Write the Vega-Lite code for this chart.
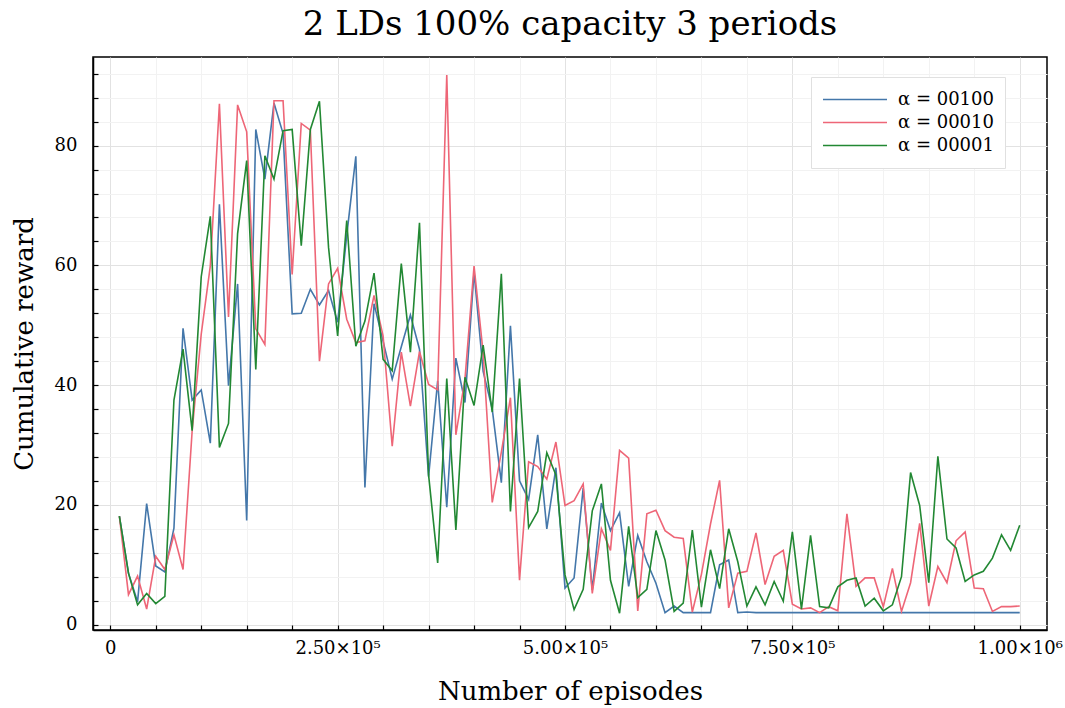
{
  "$schema": "https://vega.github.io/schema/vega-lite/v6.json",
  "width": 954,
  "height": 573,
  "autosize": {"type": "none"},
  "padding": {"left": 93, "top": 57, "right": 18, "bottom": 78},
  "background": "#ffffff",
  "data": {"values": [
    {"episodes":10000,"reward":18.1,"series":"α = 00100"},{"episodes":20000,"reward":8.6,"series":"α = 00100"},{"episodes":30000,"reward":3.8,"series":"α = 00100"},{"episodes":40000,"reward":20.2,"series":"α = 00100"},{"episodes":50000,"reward":9.8,"series":"α = 00100"},{"episodes":60000,"reward":8.8,"series":"α = 00100"},{"episodes":70000,"reward":16.1,"series":"α = 00100"},{"episodes":80000,"reward":49.5,"series":"α = 00100"},{"episodes":90000,"reward":37.5,"series":"α = 00100"},{"episodes":100000,"reward":39.2,"series":"α = 00100"},
    {"episodes":110000,"reward":30.3,"series":"α = 00100"},{"episodes":120000,"reward":70.2,"series":"α = 00100"},{"episodes":130000,"reward":39.9,"series":"α = 00100"},{"episodes":140000,"reward":56.9,"series":"α = 00100"},{"episodes":150000,"reward":17.4,"series":"α = 00100"},{"episodes":160000,"reward":82.7,"series":"α = 00100"},{"episodes":170000,"reward":74.4,"series":"α = 00100"},{"episodes":180000,"reward":87.1,"series":"α = 00100"},{"episodes":190000,"reward":82.0,"series":"α = 00100"},{"episodes":200000,"reward":51.9,"series":"α = 00100"},
    {"episodes":210000,"reward":52.0,"series":"α = 00100"},{"episodes":220000,"reward":56.0,"series":"α = 00100"},{"episodes":230000,"reward":53.4,"series":"α = 00100"},{"episodes":240000,"reward":55.8,"series":"α = 00100"},{"episodes":250000,"reward":50.5,"series":"α = 00100"},{"episodes":260000,"reward":65.0,"series":"α = 00100"},{"episodes":270000,"reward":78.2,"series":"α = 00100"},{"episodes":280000,"reward":22.9,"series":"α = 00100"},{"episodes":290000,"reward":53.6,"series":"α = 00100"},{"episodes":300000,"reward":47.3,"series":"α = 00100"},
    {"episodes":310000,"reward":41.0,"series":"α = 00100"},{"episodes":320000,"reward":46.4,"series":"α = 00100"},{"episodes":330000,"reward":51.7,"series":"α = 00100"},{"episodes":340000,"reward":46.0,"series":"α = 00100"},{"episodes":350000,"reward":24.7,"series":"α = 00100"},{"episodes":360000,"reward":40.7,"series":"α = 00100"},{"episodes":370000,"reward":19.6,"series":"α = 00100"},{"episodes":380000,"reward":44.5,"series":"α = 00100"},{"episodes":390000,"reward":37.1,"series":"α = 00100"},{"episodes":400000,"reward":58.9,"series":"α = 00100"},
    {"episodes":410000,"reward":42.3,"series":"α = 00100"},{"episodes":420000,"reward":36.0,"series":"α = 00100"},{"episodes":430000,"reward":23.7,"series":"α = 00100"},{"episodes":440000,"reward":49.9,"series":"α = 00100"},{"episodes":450000,"reward":24.0,"series":"α = 00100"},{"episodes":460000,"reward":20.9,"series":"α = 00100"},{"episodes":470000,"reward":31.7,"series":"α = 00100"},{"episodes":480000,"reward":16.0,"series":"α = 00100"},{"episodes":490000,"reward":26.2,"series":"α = 00100"},{"episodes":500000,"reward":6.1,"series":"α = 00100"},
    {"episodes":510000,"reward":7.8,"series":"α = 00100"},{"episodes":520000,"reward":22.8,"series":"α = 00100"},{"episodes":530000,"reward":5.8,"series":"α = 00100"},{"episodes":540000,"reward":20.3,"series":"α = 00100"},{"episodes":550000,"reward":15.7,"series":"α = 00100"},{"episodes":560000,"reward":18.7,"series":"α = 00100"},{"episodes":570000,"reward":6.4,"series":"α = 00100"},{"episodes":580000,"reward":14.9,"series":"α = 00100"},{"episodes":590000,"reward":10.5,"series":"α = 00100"},{"episodes":600000,"reward":6.9,"series":"α = 00100"},
    {"episodes":610000,"reward":2.0,"series":"α = 00100"},{"episodes":620000,"reward":3.1,"series":"α = 00100"},{"episodes":630000,"reward":2.0,"series":"α = 00100"},{"episodes":640000,"reward":2.0,"series":"α = 00100"},{"episodes":650000,"reward":2.0,"series":"α = 00100"},{"episodes":660000,"reward":2.0,"series":"α = 00100"},{"episodes":670000,"reward":10.0,"series":"α = 00100"},{"episodes":680000,"reward":10.8,"series":"α = 00100"},{"episodes":690000,"reward":2.0,"series":"α = 00100"},{"episodes":700000,"reward":2.1,"series":"α = 00100"},
    {"episodes":710000,"reward":2.0,"series":"α = 00100"},{"episodes":720000,"reward":2.0,"series":"α = 00100"},{"episodes":730000,"reward":2.0,"series":"α = 00100"},{"episodes":740000,"reward":2.0,"series":"α = 00100"},{"episodes":750000,"reward":2.0,"series":"α = 00100"},{"episodes":760000,"reward":2.0,"series":"α = 00100"},{"episodes":770000,"reward":2.0,"series":"α = 00100"},{"episodes":780000,"reward":2.0,"series":"α = 00100"},{"episodes":790000,"reward":2.0,"series":"α = 00100"},{"episodes":800000,"reward":2.0,"series":"α = 00100"},
    {"episodes":810000,"reward":2.0,"series":"α = 00100"},{"episodes":820000,"reward":2.0,"series":"α = 00100"},{"episodes":830000,"reward":2.0,"series":"α = 00100"},{"episodes":840000,"reward":2.0,"series":"α = 00100"},{"episodes":850000,"reward":2.0,"series":"α = 00100"},{"episodes":860000,"reward":2.0,"series":"α = 00100"},{"episodes":870000,"reward":2.0,"series":"α = 00100"},{"episodes":880000,"reward":2.0,"series":"α = 00100"},{"episodes":890000,"reward":2.0,"series":"α = 00100"},{"episodes":900000,"reward":2.0,"series":"α = 00100"},
    {"episodes":910000,"reward":2.0,"series":"α = 00100"},{"episodes":920000,"reward":2.0,"series":"α = 00100"},{"episodes":930000,"reward":2.0,"series":"α = 00100"},{"episodes":940000,"reward":2.0,"series":"α = 00100"},{"episodes":950000,"reward":2.0,"series":"α = 00100"},{"episodes":960000,"reward":2.0,"series":"α = 00100"},{"episodes":970000,"reward":2.0,"series":"α = 00100"},{"episodes":980000,"reward":2.0,"series":"α = 00100"},{"episodes":990000,"reward":2.0,"series":"α = 00100"},{"episodes":1000000,"reward":2.0,"series":"α = 00100"},

    {"episodes":10000,"reward":18.1,"series":"α = 00010"},{"episodes":20000,"reward":5.0,"series":"α = 00010"},{"episodes":30000,"reward":8.1,"series":"α = 00010"},{"episodes":40000,"reward":2.6,"series":"α = 00010"},{"episodes":50000,"reward":11.4,"series":"α = 00010"},{"episodes":60000,"reward":9.2,"series":"α = 00010"},{"episodes":70000,"reward":15.0,"series":"α = 00010"},{"episodes":80000,"reward":9.2,"series":"α = 00010"},{"episodes":90000,"reward":32.3,"series":"α = 00010"},{"episodes":100000,"reward":48.5,"series":"α = 00010"},
    {"episodes":110000,"reward":59.9,"series":"α = 00010"},{"episodes":120000,"reward":87.0,"series":"α = 00010"},{"episodes":130000,"reward":51.4,"series":"α = 00010"},{"episodes":140000,"reward":86.8,"series":"α = 00010"},{"episodes":150000,"reward":82.3,"series":"α = 00010"},{"episodes":160000,"reward":49.4,"series":"α = 00010"},{"episodes":170000,"reward":46.8,"series":"α = 00010"},{"episodes":180000,"reward":87.5,"series":"α = 00010"},{"episodes":190000,"reward":87.5,"series":"α = 00010"},{"episodes":200000,"reward":58.5,"series":"α = 00010"},
    {"episodes":210000,"reward":83.7,"series":"α = 00010"},{"episodes":220000,"reward":82.6,"series":"α = 00010"},{"episodes":230000,"reward":44.0,"series":"α = 00010"},{"episodes":240000,"reward":56.9,"series":"α = 00010"},{"episodes":250000,"reward":59.5,"series":"α = 00010"},{"episodes":260000,"reward":51.0,"series":"α = 00010"},{"episodes":270000,"reward":47.1,"series":"α = 00010"},{"episodes":280000,"reward":47.4,"series":"α = 00010"},{"episodes":290000,"reward":55.0,"series":"α = 00010"},{"episodes":300000,"reward":48.2,"series":"α = 00010"},
    {"episodes":310000,"reward":29.8,"series":"α = 00010"},{"episodes":320000,"reward":45.5,"series":"α = 00010"},{"episodes":330000,"reward":36.5,"series":"α = 00010"},{"episodes":340000,"reward":45.6,"series":"α = 00010"},{"episodes":350000,"reward":40.1,"series":"α = 00010"},{"episodes":360000,"reward":39.2,"series":"α = 00010"},{"episodes":370000,"reward":91.8,"series":"α = 00010"},{"episodes":380000,"reward":31.7,"series":"α = 00010"},{"episodes":390000,"reward":41.0,"series":"α = 00010"},{"episodes":400000,"reward":59.9,"series":"α = 00010"},
    {"episodes":410000,"reward":45.4,"series":"α = 00010"},{"episodes":420000,"reward":20.4,"series":"α = 00010"},{"episodes":430000,"reward":28.8,"series":"α = 00010"},{"episodes":440000,"reward":37.9,"series":"α = 00010"},{"episodes":450000,"reward":7.4,"series":"α = 00010"},{"episodes":460000,"reward":27.2,"series":"α = 00010"},{"episodes":470000,"reward":26.4,"series":"α = 00010"},{"episodes":480000,"reward":24.3,"series":"α = 00010"},{"episodes":490000,"reward":30.5,"series":"α = 00010"},{"episodes":500000,"reward":19.9,"series":"α = 00010"},
    {"episodes":510000,"reward":20.7,"series":"α = 00010"},{"episodes":520000,"reward":23.5,"series":"α = 00010"},{"episodes":530000,"reward":5.2,"series":"α = 00010"},{"episodes":540000,"reward":16.0,"series":"α = 00010"},{"episodes":550000,"reward":12.4,"series":"α = 00010"},{"episodes":560000,"reward":29.1,"series":"α = 00010"},{"episodes":570000,"reward":27.8,"series":"α = 00010"},{"episodes":580000,"reward":2.3,"series":"α = 00010"},{"episodes":590000,"reward":18.5,"series":"α = 00010"},{"episodes":600000,"reward":19.1,"series":"α = 00010"},
    {"episodes":610000,"reward":15.7,"series":"α = 00010"},{"episodes":620000,"reward":14.6,"series":"α = 00010"},{"episodes":630000,"reward":14.4,"series":"α = 00010"},{"episodes":640000,"reward":2.1,"series":"α = 00010"},{"episodes":650000,"reward":8.4,"series":"α = 00010"},{"episodes":660000,"reward":16.8,"series":"α = 00010"},{"episodes":670000,"reward":24.1,"series":"α = 00010"},{"episodes":680000,"reward":2.8,"series":"α = 00010"},{"episodes":690000,"reward":8.6,"series":"α = 00010"},{"episodes":700000,"reward":8.9,"series":"α = 00010"},
    {"episodes":710000,"reward":15.3,"series":"α = 00010"},{"episodes":720000,"reward":6.7,"series":"α = 00010"},{"episodes":730000,"reward":11.4,"series":"α = 00010"},{"episodes":740000,"reward":12.4,"series":"α = 00010"},{"episodes":750000,"reward":3.4,"series":"α = 00010"},{"episodes":760000,"reward":2.6,"series":"α = 00010"},{"episodes":770000,"reward":2.8,"series":"α = 00010"},{"episodes":780000,"reward":2.0,"series":"α = 00010"},{"episodes":790000,"reward":3.0,"series":"α = 00010"},{"episodes":800000,"reward":2.3,"series":"α = 00010"},
    {"episodes":810000,"reward":18.5,"series":"α = 00010"},{"episodes":820000,"reward":6.4,"series":"α = 00010"},{"episodes":830000,"reward":7.8,"series":"α = 00010"},{"episodes":840000,"reward":7.8,"series":"α = 00010"},{"episodes":850000,"reward":3.0,"series":"α = 00010"},{"episodes":860000,"reward":9.4,"series":"α = 00010"},{"episodes":870000,"reward":2.2,"series":"α = 00010"},{"episodes":880000,"reward":7.0,"series":"α = 00010"},{"episodes":890000,"reward":16.9,"series":"α = 00010"},{"episodes":900000,"reward":3.1,"series":"α = 00010"},
    {"episodes":910000,"reward":9.7,"series":"α = 00010"},{"episodes":920000,"reward":7.0,"series":"α = 00010"},{"episodes":930000,"reward":14.0,"series":"α = 00010"},{"episodes":940000,"reward":15.5,"series":"α = 00010"},{"episodes":950000,"reward":6.1,"series":"α = 00010"},{"episodes":960000,"reward":6.0,"series":"α = 00010"},{"episodes":970000,"reward":2.2,"series":"α = 00010"},{"episodes":980000,"reward":3.0,"series":"α = 00010"},{"episodes":990000,"reward":3.0,"series":"α = 00010"},{"episodes":1000000,"reward":3.1,"series":"α = 00010"},

    {"episodes":10000,"reward":18.1,"series":"α = 00001"},{"episodes":20000,"reward":8.6,"series":"α = 00001"},{"episodes":30000,"reward":3.3,"series":"α = 00001"},{"episodes":40000,"reward":5.2,"series":"α = 00001"},{"episodes":50000,"reward":3.5,"series":"α = 00001"},{"episodes":60000,"reward":4.7,"series":"α = 00001"},{"episodes":70000,"reward":37.5,"series":"α = 00001"},{"episodes":80000,"reward":46.0,"series":"α = 00001"},{"episodes":90000,"reward":32.4,"series":"α = 00001"},{"episodes":100000,"reward":58.1,"series":"α = 00001"},
    {"episodes":110000,"reward":68.2,"series":"α = 00001"},{"episodes":120000,"reward":29.6,"series":"α = 00001"},{"episodes":130000,"reward":33.6,"series":"α = 00001"},{"episodes":140000,"reward":65.3,"series":"α = 00001"},{"episodes":150000,"reward":77.5,"series":"α = 00001"},{"episodes":160000,"reward":42.6,"series":"α = 00001"},{"episodes":170000,"reward":78.3,"series":"α = 00001"},{"episodes":180000,"reward":74.4,"series":"α = 00001"},{"episodes":190000,"reward":82.5,"series":"α = 00001"},{"episodes":200000,"reward":82.7,"series":"α = 00001"},
    {"episodes":210000,"reward":63.3,"series":"α = 00001"},{"episodes":220000,"reward":82.7,"series":"α = 00001"},{"episodes":230000,"reward":87.4,"series":"α = 00001"},{"episodes":240000,"reward":63.0,"series":"α = 00001"},{"episodes":250000,"reward":48.2,"series":"α = 00001"},{"episodes":260000,"reward":67.5,"series":"α = 00001"},{"episodes":270000,"reward":46.5,"series":"α = 00001"},{"episodes":280000,"reward":50.7,"series":"α = 00001"},{"episodes":290000,"reward":58.7,"series":"α = 00001"},{"episodes":300000,"reward":44.3,"series":"α = 00001"},
    {"episodes":310000,"reward":42.4,"series":"α = 00001"},{"episodes":320000,"reward":60.3,"series":"α = 00001"},{"episodes":330000,"reward":45.5,"series":"α = 00001"},{"episodes":340000,"reward":67.1,"series":"α = 00001"},{"episodes":350000,"reward":25.0,"series":"α = 00001"},{"episodes":360000,"reward":10.3,"series":"α = 00001"},{"episodes":370000,"reward":41.1,"series":"α = 00001"},{"episodes":380000,"reward":15.8,"series":"α = 00001"},{"episodes":390000,"reward":41.3,"series":"α = 00001"},{"episodes":400000,"reward":36.6,"series":"α = 00001"},
    {"episodes":410000,"reward":46.7,"series":"α = 00001"},{"episodes":420000,"reward":35.5,"series":"α = 00001"},{"episodes":430000,"reward":58.6,"series":"α = 00001"},{"episodes":440000,"reward":18.9,"series":"α = 00001"},{"episodes":450000,"reward":41.1,"series":"α = 00001"},{"episodes":460000,"reward":16.2,"series":"α = 00001"},{"episodes":470000,"reward":18.9,"series":"α = 00001"},{"episodes":480000,"reward":28.7,"series":"α = 00001"},{"episodes":490000,"reward":25.0,"series":"α = 00001"},{"episodes":500000,"reward":8.3,"series":"α = 00001"},
    {"episodes":510000,"reward":2.5,"series":"α = 00001"},{"episodes":520000,"reward":5.9,"series":"α = 00001"},{"episodes":530000,"reward":19.0,"series":"α = 00001"},{"episodes":540000,"reward":23.5,"series":"α = 00001"},{"episodes":550000,"reward":7.4,"series":"α = 00001"},{"episodes":560000,"reward":1.9,"series":"α = 00001"},{"episodes":570000,"reward":16.4,"series":"α = 00001"},{"episodes":580000,"reward":4.5,"series":"α = 00001"},{"episodes":590000,"reward":5.9,"series":"α = 00001"},{"episodes":600000,"reward":15.7,"series":"α = 00001"},
    {"episodes":610000,"reward":10.8,"series":"α = 00001"},{"episodes":620000,"reward":2.2,"series":"α = 00001"},{"episodes":630000,"reward":3.6,"series":"α = 00001"},{"episodes":640000,"reward":15.8,"series":"α = 00001"},{"episodes":650000,"reward":2.9,"series":"α = 00001"},{"episodes":660000,"reward":12.5,"series":"α = 00001"},{"episodes":670000,"reward":6.0,"series":"α = 00001"},{"episodes":680000,"reward":16.0,"series":"α = 00001"},{"episodes":690000,"reward":10.5,"series":"α = 00001"},{"episodes":700000,"reward":3.1,"series":"α = 00001"},
    {"episodes":710000,"reward":6.3,"series":"α = 00001"},{"episodes":720000,"reward":3.3,"series":"α = 00001"},{"episodes":730000,"reward":7.2,"series":"α = 00001"},{"episodes":740000,"reward":3.9,"series":"α = 00001"},{"episodes":750000,"reward":15.5,"series":"α = 00001"},{"episodes":760000,"reward":2.6,"series":"α = 00001"},{"episodes":770000,"reward":14.9,"series":"α = 00001"},{"episodes":780000,"reward":3.0,"series":"α = 00001"},{"episodes":790000,"reward":2.8,"series":"α = 00001"},{"episodes":800000,"reward":6.3,"series":"α = 00001"},
    {"episodes":810000,"reward":7.4,"series":"α = 00001"},{"episodes":820000,"reward":7.8,"series":"α = 00001"},{"episodes":830000,"reward":3.1,"series":"α = 00001"},{"episodes":840000,"reward":4.4,"series":"α = 00001"},{"episodes":850000,"reward":2.3,"series":"α = 00001"},{"episodes":860000,"reward":3.3,"series":"α = 00001"},{"episodes":870000,"reward":8.0,"series":"α = 00001"},{"episodes":880000,"reward":25.4,"series":"α = 00001"},{"episodes":890000,"reward":19.9,"series":"α = 00001"},{"episodes":900000,"reward":7.0,"series":"α = 00001"},
    {"episodes":910000,"reward":28.1,"series":"α = 00001"},{"episodes":920000,"reward":14.3,"series":"α = 00001"},{"episodes":930000,"reward":12.8,"series":"α = 00001"},{"episodes":940000,"reward":7.2,"series":"α = 00001"},{"episodes":950000,"reward":8.3,"series":"α = 00001"},{"episodes":960000,"reward":8.9,"series":"α = 00001"},{"episodes":970000,"reward":11.1,"series":"α = 00001"},{"episodes":980000,"reward":15.0,"series":"α = 00001"},{"episodes":990000,"reward":12.4,"series":"α = 00001"},{"episodes":1000000,"reward":16.6,"series":"α = 00001"}
  ]},
  "title": {
    "text": "2 LDs 100% capacity 3 periods",
    "font": "DejaVu Serif",
    "fontSize": 34,
    "fontWeight": "normal",
    "color": "#000000",
    "anchor": "middle",
    "baseline": "alphabetic",
    "offset": 21,
    "dy": 33
  },
  "mark": {"type": "line", "strokeWidth": 1.6, "clip": true},
  "encoding": {
    "x": {
      "field": "episodes",
      "type": "quantitative",
      "scale": {"domain": [-19000, 1030000], "nice": false, "zero": false},
      "axis": {
        "title": "Number of episodes",
        "values": [0,50000,100000,150000,200000,250000,300000,350000,400000,450000,500000,550000,600000,650000,700000,750000,800000,850000,900000,950000,1000000],
        "labelExpr": "datum.value == 0 ? '0' : datum.value == 250000 ? '2.50×10⁵' : datum.value == 500000 ? '5.00×10⁵' : datum.value == 750000 ? '7.50×10⁵' : datum.value == 1000000 ? '1.00×10⁶' : ''",
        "labelOverlap": false,
        "labelFlush": false,
        "labelPadding": 14,
        "grid": true,
        "gridColor": {"condition": {"test": "datum.value % 250000 === 0", "value": "#e2e2e2"}, "value": "#f2f2f2"},
        "gridWidth": 1,
        "tickSize": -5,
        "titleY": 69,
        "titleBaseline": "alphabetic"
      }
    },
    "y": {
      "field": "reward",
      "type": "quantitative",
      "scale": {"domain": [-0.9, 94.8], "nice": false, "zero": false},
      "axis": {
        "title": "Cumulative reward",
        "values": [0,4,8,12,16,20,24,28,32,36,40,44,48,52,56,60,64,68,72,76,80,84,88,92],
        "labelExpr": "datum.value % 20 === 0 ? datum.label : ''",
        "labelOverlap": false,
        "labelFlush": false,
        "labelPadding": 21,
        "grid": true,
        "gridColor": {"condition": {"test": "datum.value % 20 === 0", "value": "#e2e2e2"}, "value": "#f2f2f2"},
        "gridWidth": 1,
        "tickSize": -5,
        "titleX": -61,
        "titleY": 286.5,
        "titleBaseline": "alphabetic"
      }
    },
    "color": {
      "field": "series",
      "type": "nominal",
      "sort": ["α = 00100", "α = 00010", "α = 00001"],
      "scale": {"domain": ["α = 00100", "α = 00010", "α = 00001"], "range": ["#4477AA", "#EE6677", "#228833"]},
      "legend": {
        "title": null,
        "orient": "none",
        "legendX": 718,
        "legendY": 20,
        "symbolType": "stroke",
        "symbolSize": 4096,
        "symbolStrokeWidth": 1.6,
        "clipHeight": 23,
        "rowPadding": 0,
        "padding": 11,
        "labelOffset": 10,
        "labelLimit": 0,
        "labelFont": "DejaVu Serif",
        "labelFontSize": 18,
        "labelColor": "#000000",
        "strokeColor": "#e0e0e0",
        "fillColor": "#ffffff"
      }
    }
  },
  "config": {
    "font": "DejaVu Serif",
    "view": {"stroke": "#000000", "strokeWidth": 1.5},
    "axis": {
      "domainColor": "#000000",
      "domainWidth": 1.5,
      "tickColor": "#000000",
      "tickWidth": 1.2,
      "labelFont": "DejaVu Serif",
      "labelFontSize": 18,
      "labelColor": "#000000",
      "titleFont": "DejaVu Serif",
      "titleFontSize": 26,
      "titleFontWeight": "normal",
      "titleColor": "#000000"
    }
  }
}
